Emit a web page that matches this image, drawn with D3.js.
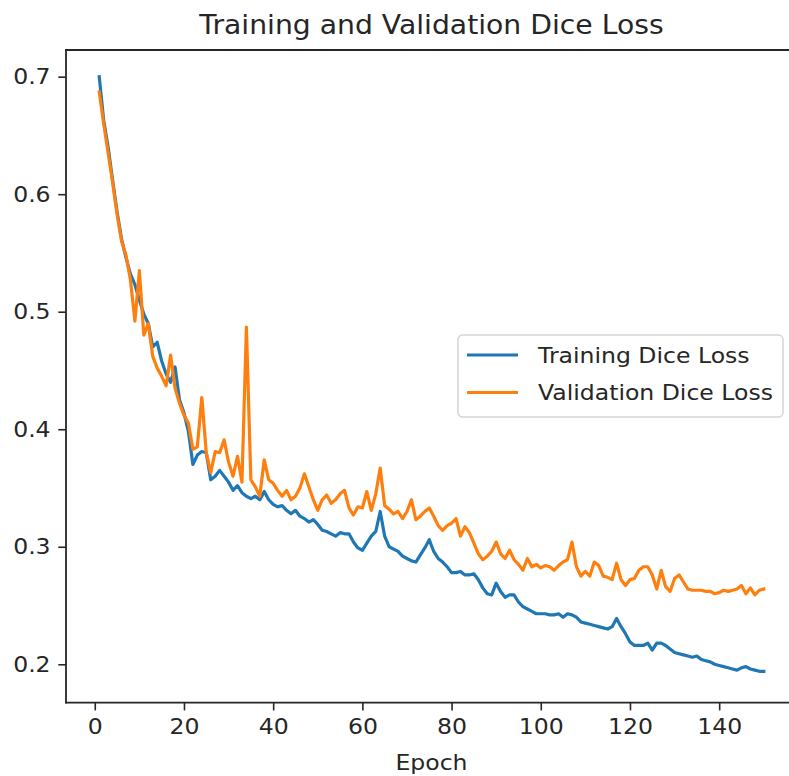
<!DOCTYPE html>
<html>
<head>
<meta charset="utf-8">
<script src="https://cdnjs.cloudflare.com/ajax/libs/d3/7.8.5/d3.min.js"></script>
<style>
  body { margin: 0; background: #fff; overflow: hidden; }
  text { font-family: 'DejaVu Sans', sans-serif; fill: #262626; }
</style>
</head>
<body>
<div id="chart"></div>
<script>

// data
var epochs = d3.range(1, 151);

var trainingLoss = [
  0.700, 0.663, 0.640, 0.612, 0.585, 0.562, 0.546, 0.532, 0.523, 0.510,
  0.498, 0.490, 0.470, 0.474, 0.458, 0.447, 0.440, 0.453, 0.425, 0.414,
  0.398, 0.370, 0.378, 0.381, 0.380, 0.357, 0.360, 0.365, 0.360, 0.355,
  0.348, 0.352, 0.346, 0.343, 0.341, 0.343, 0.340, 0.347, 0.340, 0.336,
  0.334, 0.335, 0.331, 0.328, 0.331, 0.326, 0.324, 0.321, 0.323, 0.319,
  0.314, 0.313, 0.311, 0.309, 0.312, 0.311, 0.311, 0.304, 0.299, 0.297,
  0.303, 0.309, 0.313, 0.330, 0.309, 0.300, 0.298, 0.296, 0.292, 0.290,
  0.288, 0.287, 0.293, 0.299, 0.306, 0.296, 0.290, 0.287, 0.283, 0.278,
  0.278, 0.279, 0.276, 0.276, 0.277, 0.272, 0.265, 0.260, 0.259, 0.269,
  0.262, 0.257, 0.259, 0.259, 0.253, 0.249, 0.247, 0.245, 0.243, 0.243,
  0.243, 0.242, 0.242, 0.243, 0.240, 0.243, 0.242, 0.240, 0.236, 0.235,
  0.234, 0.233, 0.232, 0.231, 0.230, 0.232, 0.239, 0.232, 0.226, 0.219,
  0.216, 0.216, 0.216, 0.218, 0.212, 0.218, 0.218, 0.216, 0.213, 0.210,
  0.209, 0.208, 0.207, 0.206, 0.207, 0.204, 0.203, 0.202, 0.200, 0.199,
  0.198, 0.197, 0.196, 0.195, 0.197, 0.198, 0.196, 0.195, 0.194, 0.194
];

var validationLoss = [
  0.687, 0.660, 0.635, 0.610, 0.583, 0.560, 0.548, 0.527, 0.492, 0.535,
  0.480, 0.490, 0.462, 0.452, 0.445, 0.437, 0.463, 0.435, 0.422, 0.412,
  0.405, 0.383, 0.385, 0.427, 0.380, 0.363, 0.381, 0.380, 0.391, 0.372,
  0.360, 0.377, 0.355, 0.487, 0.357, 0.351, 0.343, 0.374, 0.357, 0.354,
  0.348, 0.343, 0.348, 0.340, 0.343, 0.350, 0.362, 0.351, 0.340, 0.331,
  0.340, 0.344, 0.337, 0.340, 0.345, 0.348, 0.333, 0.327, 0.334, 0.333,
  0.347, 0.331, 0.345, 0.367, 0.335, 0.332, 0.328, 0.330, 0.324, 0.330,
  0.340, 0.323, 0.326, 0.330, 0.333, 0.326, 0.318, 0.314, 0.318, 0.320,
  0.324, 0.309, 0.317, 0.312, 0.303, 0.294, 0.289, 0.292, 0.296, 0.304,
  0.294, 0.290, 0.297, 0.289, 0.285, 0.280, 0.290, 0.283, 0.285, 0.282,
  0.284, 0.283, 0.280, 0.284, 0.287, 0.289, 0.304, 0.283, 0.275, 0.279,
  0.275, 0.287, 0.284, 0.275, 0.274, 0.272, 0.286, 0.272, 0.267, 0.272,
  0.273, 0.280, 0.283, 0.283, 0.276, 0.264, 0.280, 0.266, 0.262, 0.273,
  0.276, 0.270, 0.264, 0.263, 0.263, 0.263, 0.262, 0.262, 0.260, 0.261,
  0.263, 0.262, 0.263, 0.264, 0.267, 0.260, 0.265, 0.259, 0.263, 0.264
];

var xTicks = [0, 20, 40, 60, 80, 100, 120, 140];
var yTicks = [0.2, 0.3, 0.4, 0.5, 0.6, 0.7];
var seriesNames = ['Training Dice Loss', 'Validation Dice Loss'];
var seriesColors = ['#1f77b4', '#ff7f0e'];


function renderLossChart(params) {
    var attrs = {
        svgWidth: 789,
        svgHeight: 776,
        marginTop: 50,
        marginLeft: 66,
        plotRight: 797,      // right spine falls just outside the picture
        plotBottom: 702.7,
        fontSize: 22,
        titleSize: 26.4,
        stretch: 1.07        // text in the picture is a little wide
    };

    Object.keys(attrs).forEach(function (key) {
        if (params && params[key]) attrs[key] = params[key];
    });

    var svg = d3.select('#chart')
        .append('svg')
        .attr('width', attrs.svgWidth)
        .attr('height', attrs.svgHeight)
        .style('display', 'block');

    svg.append('rect')
        .attr('width', attrs.svgWidth)
        .attr('height', attrs.svgHeight)
        .attr('fill', '#fff');

    // matplotlib style 5% margins
    var x = d3.scaleLinear()
        .domain([1 - 0.05 * 149, 150 + 0.05 * 149])
        .range([attrs.marginLeft, attrs.plotRight]);

    var y = d3.scaleLinear()
        .domain([0.1673, 0.7227])
        .range([attrs.plotBottom, attrs.marginTop]);

    svg.append('clipPath').attr('id', 'plot-clip')
        .append('rect')
        .attr('x', attrs.marginLeft)
        .attr('y', attrs.marginTop)
        .attr('width', attrs.plotRight - attrs.marginLeft)
        .attr('height', attrs.plotBottom - attrs.marginTop);

    var line = d3.line()
        .x(function (d) { return x(d[0]); })
        .y(function (d) { return y(d[1]); });

    var series = [trainingLoss, validationLoss].map(function (vals) {
        return epochs.map(function (e, i) { return [e, vals[i]]; });
    });

    svg.append('g')
        .attr('clip-path', 'url(#plot-clip)')
        .selectAll('path')
        .data(series)
        .enter()
        .append('path')
        .attr('d', line)
        .attr('fill', 'none')
        .attr('stroke', function (d, i) { return seriesColors[i]; })
        .attr('stroke-width', 3.2)
        .attr('stroke-linejoin', 'round')
        .attr('stroke-linecap', 'square');

    // axes
    var xAxis = svg.append('g')
        .attr('transform', 'translate(0,' + attrs.plotBottom + ')')
        .call(d3.axisBottom(x).tickValues(xTicks).tickSize(7.7).tickPadding(8).tickFormat(d3.format('d')));

    var yAxis = svg.append('g')
        .attr('transform', 'translate(' + attrs.marginLeft + ',0)')
        .call(d3.axisLeft(y).tickValues(yTicks).tickSize(7.7).tickPadding(7.7).tickFormat(d3.format('.1f')));

    [xAxis, yAxis].forEach(function (g) {
        g.select('.domain').remove();
        g.selectAll('line').attr('stroke', '#262626').attr('stroke-width', 1.6);
        g.selectAll('text')
            .attr('font-size', attrs.fontSize)
            .attr('font-family', "'DejaVu Sans', sans-serif")
            .attr('fill', '#262626');
    });

    // spines: left, top, bottom (the right one sits outside the picture)
    var spines = [
        [attrs.marginLeft, attrs.marginTop, attrs.marginLeft, attrs.plotBottom],
        [attrs.marginLeft, attrs.marginTop, attrs.plotRight, attrs.marginTop],
        [attrs.marginLeft, attrs.plotBottom, attrs.plotRight, attrs.plotBottom]
    ];
    svg.selectAll('line.spine')
        .data(spines)
        .enter()
        .append('line')
        .attr('class', 'spine')
        .attr('x1', function (d) { return d[0]; })
        .attr('y1', function (d) { return d[1]; })
        .attr('x2', function (d) { return d[2]; })
        .attr('y2', function (d) { return d[3]; })
        .attr('stroke', '#262626')
        .attr('stroke-width', 1.8)
        .attr('stroke-linecap', 'square');

    // title + axis label
    svg.append('text')
        .attr('x', (attrs.marginLeft + attrs.plotRight) / 2)
        .attr('y', 34)
        .attr('text-anchor', 'middle')
        .attr('font-size', attrs.titleSize)
        .text('Training and Validation Dice Loss');

    svg.append('text')
        .attr('x', (attrs.marginLeft + attrs.plotRight) / 2)
        .attr('y', 770)
        .attr('text-anchor', 'middle')
        .attr('font-size', attrs.fontSize)
        .text('Epoch');

    // legend
    var legend = svg.append('g').attr('transform', 'translate(458,335)');

    legend.append('rect')
        .attr('width', 325)
        .attr('height', 82)
        .attr('rx', 4.4)
        .attr('fill', '#fff')
        .attr('fill-opacity', 0.8)
        .attr('stroke', '#d6d6d6')
        .attr('stroke-width', 1.6);

    var item = legend.selectAll('g.item')
        .data(seriesNames)
        .enter()
        .append('g')
        .attr('class', 'item')
        .attr('transform', function (d, i) { return 'translate(0,' + (20 + i * 37.5) + ')'; });

    item.append('line')
        .attr('x1', 9).attr('x2', 60)
        .attr('stroke', function (d, i) { return seriesColors[i]; })
        .attr('stroke-width', 3.2);

    item.append('text')
        .attr('x', 80)
        .attr('y', 7.5)
        .attr('font-size', attrs.fontSize)
        .text(function (d) { return d; });

    // widen all text a bit to match the reference
    svg.selectAll('text').each(function () {
        var w = this.getComputedTextLength();
        d3.select(this)
            .attr('textLength', w * attrs.stretch)
            .attr('lengthAdjust', 'spacingAndGlyphs');
    });
}

renderLossChart();
</script>
</body>
</html>
